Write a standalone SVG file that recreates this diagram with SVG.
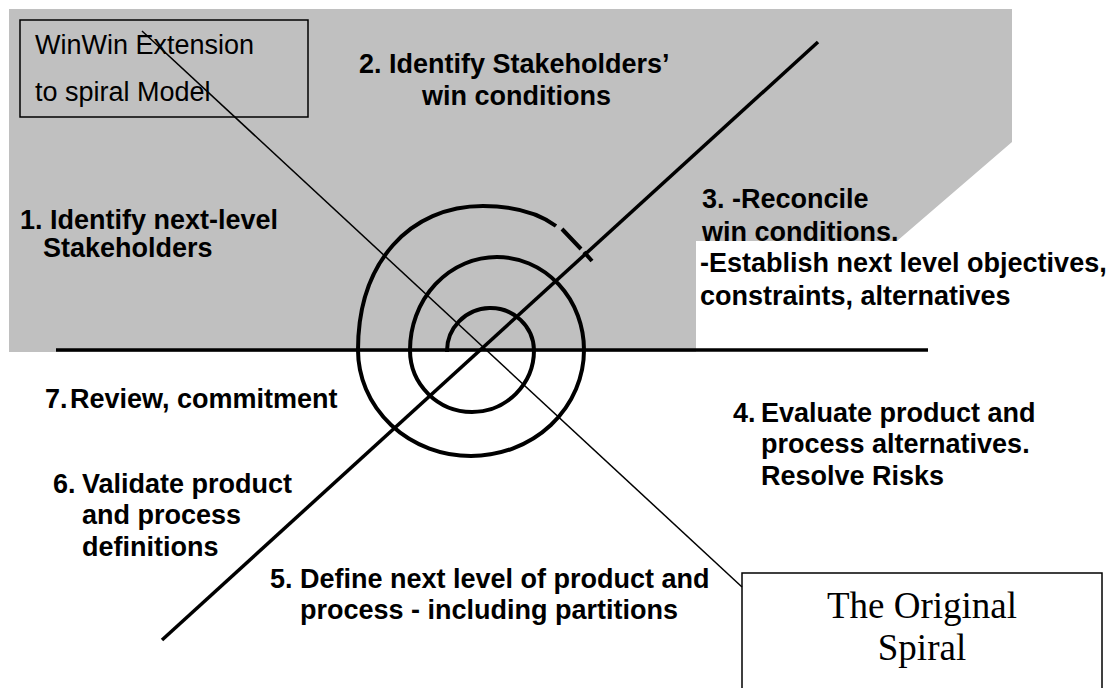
<svg xmlns="http://www.w3.org/2000/svg" width="1119" height="688" viewBox="0 0 1119 688">
  <style>
    .lbl { font-family: "Liberation Sans", Arial, sans-serif; font-weight: bold; font-size: 27px; fill: #000; }
    .box { fill: none; stroke: #000; stroke-width: 1.5; }
    .boxtxt { font-family: "Liberation Sans", Arial, sans-serif; font-size: 27px; fill: #000; }
    .serif { font-family: "Liberation Serif", "Times New Roman", serif; font-size: 37px; fill: #000; }
    .axis { stroke: #000; stroke-width: 3.5; fill: none; stroke-linecap: butt; }
    .thin { stroke: #000; stroke-width: 1.5; fill: none; }
    .spiral { stroke: #000; stroke-width: 4; fill: none; stroke-linecap: butt; }
  </style>

  <!-- shaded WinWin area -->
  <polygon id="winwin-area" points="9,9 1012,9 1012,142 897,241 696,241 696,352 9,352" fill="#c0c0c0"/>

  <g id="winwin-box">
    <rect class="box" x="20" y="20" width="288" height="97"/>
    <text class="boxtxt" x="35" y="54">WinWin Extension</text>
    <text class="boxtxt" x="35" y="101">to spiral Model</text>
  </g>

  <g id="step1">
    <text class="lbl" x="20" y="229">1. Identify next-level</text>
    <text class="lbl" x="43" y="257">Stakeholders</text>
  </g>

  <g id="step2">
    <text class="lbl" x="359" y="73">2. Identify Stakeholders’</text>
    <text class="lbl" x="422" y="105">win conditions</text>
  </g>

  <g id="step3">
    <text class="lbl" x="702" y="208">3. -Reconcile</text>
    <text class="lbl" x="702" y="241">win conditions.</text>
    <rect x="696" y="241" width="423" height="111" fill="#fff"/>
    <text class="lbl" x="700" y="272">-Establish next level objectives,</text>
    <text class="lbl" x="700" y="305">constraints, alternatives</text>
  </g>

  <g id="step4">
    <text class="lbl" x="733" y="422">4.</text>
    <text class="lbl" x="761" y="422">Evaluate product and</text>
    <text class="lbl" x="761" y="453">process alternatives.</text>
    <text class="lbl" x="761" y="485">Resolve Risks</text>
  </g>

  <g id="step5">
    <text class="lbl" x="270" y="588">5.</text>
    <text class="lbl" x="300" y="588">Define next level of product and</text>
    <text class="lbl" x="300" y="619">process - including partitions</text>
  </g>

  <g id="step6">
    <text class="lbl" x="53" y="493">6.</text>
    <text class="lbl" x="82" y="493">Validate product</text>
    <text class="lbl" x="82" y="524">and process</text>
    <text class="lbl" x="82" y="556">definitions</text>
  </g>

  <g id="step7">
    <text class="lbl" x="45" y="408">7.</text>
    <text class="lbl" x="70" y="408">Review, commitment</text>
  </g>

  <g id="original-box">
    <rect x="742" y="573" width="360" height="130" fill="#fff" stroke="#000" stroke-width="1.5"/>
    <text class="serif" x="922" y="618" text-anchor="middle">The Original</text>
    <text class="serif" x="922" y="660" text-anchor="middle">Spiral</text>
  </g>

  <g id="connectors">
    <!-- axes -->
    <line class="axis" x1="56" y1="350" x2="928" y2="350"/>
    <line class="axis" x1="162" y1="640" x2="818" y2="42"/>
    <line class="thin" x1="142" y1="31" x2="742" y2="587"/>
    <!-- spiral, built from alternating half-ellipses -->
    <path class="spiral" d="M447,352 A43.5,43 0 0 1 534,350 A62,62 0 0 1 410,350 A87,93 0 0 1 584,350 A113,106 0 0 1 358,350 C358,262 410,206 483,206"/>
    <path class="spiral" stroke-width="4.5" d="M483,206 C515,206 540,214 556,226"/>
    <path class="spiral" d="M562,229 L581,249 M584,252 L592,261"/>
  </g>
</svg>
